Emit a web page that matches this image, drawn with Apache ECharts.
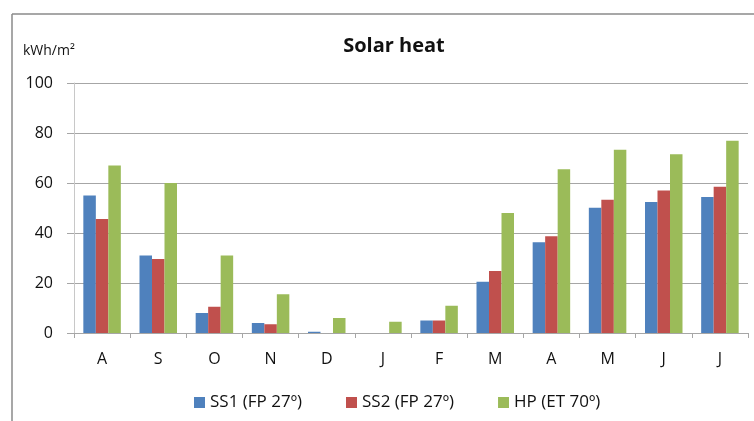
<!DOCTYPE html>
<html><head><meta charset="utf-8">
<script src="https://cdn.jsdelivr.net/npm/echarts@6/dist/echarts.min.js"></script>
<style>html,body{margin:0;padding:0;background:#fff}#c{width:754px;height:421px}</style>
</head><body><div id="c"></div>
<script>
var categories = ['A','S','O','N','D','J','F','M','A','M','J','J'];
var ss1 = [55, 31, 8, 4, 0.5, 0, 5, 20.5, 36.3, 50.1, 52.4, 54.4];
var ss2 = [45.6, 29.6, 10.5, 3.5, 0, 0, 5, 24.8, 38.7, 53.3, 57, 58.5];
var hp = [67, 60, 31, 15.5, 6, 4.5, 10.9, 48, 65.5, 73.3, 71.5, 76.9];
var seriesNames = ['SS1 (FP 27º)', 'SS2 (FP 27º)', 'HP (ET 70º)'];
var colors = ['#4F81BD', '#C0504D', '#9BBB59'];
var font = '"Open Sans", sans-serif';
var chart = echarts.init(document.getElementById('c'), null, {renderer:'canvas'});
function bar(name, data, color){
  return {name:name, type:'bar', data:data, barWidth:12.5, barGap:'0%',
    itemStyle:{color:color}, emphasis:{disabled:true}};
}
chart.setOption({
  animation:false,
  textStyle:{fontFamily:font},
  title:{text:'Solar heat', left:389, textAlign:'center', top:31,
    textStyle:{fontFamily:font, fontSize:20, fontWeight:'bold', color:'#111'}},
  graphic:[
    {type:'line', shape:{x1:12, y1:14, x2:754, y2:14}, style:{stroke:'#8a8a8a', lineWidth:1.5}},
    {type:'line', shape:{x1:12, y1:14, x2:12, y2:421}, style:{stroke:'#8a8a8a', lineWidth:1.5}},
    {type:'text', left:23, top:44, style:{text:'kWh/m²', font:'14px '+font, fill:'#111'}}
  ],
  legend:{bottom:5, left:189, itemWidth:11, itemHeight:11, itemGap:44,
    icon:'rect', textStyle:{fontFamily:font, fontSize:17, color:'#111'},
    data:seriesNames},
  grid:{left:74, right:6, top:83, bottom:88},
  xAxis:{type:'category', data:categories,
    axisLine:{lineStyle:{color:'#a6a6a6'}},
    axisTick:{show:true, length:5, lineStyle:{color:'#a6a6a6'}},
    axisLabel:{fontFamily:font, fontSize:16, color:'#111', margin:18}},
  yAxis:{type:'value', min:0, max:100, interval:20,
    axisLine:{show:true, lineStyle:{color:'#c8c8c8'}},
    axisTick:{show:true, length:7, lineStyle:{color:'#a6a6a6'}},
    splitLine:{lineStyle:{color:'#a6a6a6'}},
    axisLabel:{fontFamily:font, fontSize:16, color:'#111', margin:21}},
  series:[bar(seriesNames[0], ss1, colors[0]), bar(seriesNames[1], ss2, colors[1]), bar(seriesNames[2], hp, colors[2])]
});
</script></body></html>
